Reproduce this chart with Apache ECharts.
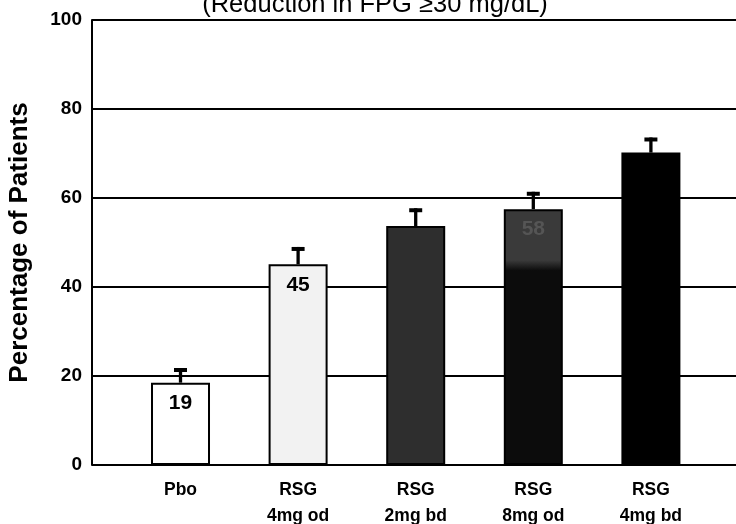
<!DOCTYPE html>
<html>
<head>
<meta charset="utf-8">
<script src="https://cdn.jsdelivr.net/npm/echarts@6/dist/echarts.min.js"></script>
<style>
html,body{margin:0;padding:0;background:#fff;}
#chart{width:736px;height:524px;}
</style>
</head>
<body>
<div id="chart"></div>
<script>
// ---- data ----
var categories = ['Pbo', 'RSG\n4mg od', 'RSG\n2mg bd', 'RSG\n8mg od', 'RSG\n4mg bd'];
var values = [18.5, 45.1, 53.7, 57.5, 70.2];
var errorUpper = [21.8, 49.0, 57.7, 61.4, 73.6];
var barLabels = ['19', '45', '', '58', ''];
var yTicks = [0, 20, 40, 60, 80, 100];
var titleText = '(Reduction in FPG \u226530 mg/dL)';
var yAxisName = 'Percentage of Patients';

// ---- styles ----
var fills = [
  '#ffffff',
  '#f2f2f2',
  '#2e2e2e',
  {type:'linear', x:0, y:0, x2:0, y2:1, colorStops:[
    {offset:0, color:'#3a3a3a'}, {offset:0.2, color:'#3a3a3a'},
    {offset:0.24, color:'#0c0c0c'}, {offset:1, color:'#0c0c0c'}]},
  '#000000'
];
var labelColors = ['#000', '#000', '#000', '#555', '#000'];
var FONT = '"Liberation Sans", Arial, Helvetica, sans-serif';

var barData = values.map(function(v, i){
  return {
    value: [i, v],
    itemStyle: {color: fills[i], borderColor: '#000', borderWidth: 2},
    label: {show: barLabels[i] !== '', formatter: barLabels[i], color: labelColors[i]}
  };
});
var errData = values.map(function(v, i){ return [i, v, errorUpper[i]]; });

var chart = echarts.init(document.getElementById('chart'), null, {renderer: 'canvas'});
chart.setOption({
  animation: false,
  backgroundColor: '#fff',
  title: {
    text: titleText,
    left: 370, textAlign: 'center', top: -13,
    textStyle: {fontFamily: FONT, fontSize: 25.5, fontWeight: 'normal', color: '#000'}
  },
  grid: {left: 92, right: 0, top: 20, bottom: 59, containLabel: false, outerBoundsMode: 'none'},
  xAxis: {
    type: 'value',
    min: -0.7526, max: 4.7236,
    axisLine: {show: false},
    axisTick: {show: false},
    splitLine: {show: false},
    axisLabel: {
      customValues: categories.map(function(c, i){ return i; }),
      formatter: function(v){ return categories[Math.round(v)]; },
      fontFamily: FONT, fontSize: 17.5, fontWeight: 'bold', color: '#000',
      lineHeight: 26, margin: 12
    }
  },
  yAxis: {
    type: 'value', min: 0, max: 100, interval: 20,
    name: yAxisName, nameLocation: 'middle', nameGap: 59, nameRotate: 90,
    nameTextStyle: {fontFamily: FONT, fontSize: 26, fontWeight: 'bold', color: '#000'},
    axisLine: {show: true, onZero: false, lineStyle: {color: '#000', width: 2}},
    axisTick: {show: false},
    axisLabel: {fontFamily: FONT, fontSize: 19, fontWeight: 'bold', color: '#000', margin: 10},
    splitLine: {show: true, lineStyle: {color: '#000', width: 2}}
  },
  series: [
    {
      type: 'bar',
      barWidth: 59,
      data: barData,
      label: {position: 'insideTop', distance: 10, fontFamily: FONT, fontSize: 21, fontWeight: 'bold'},
      z: 2
    },
    {
      type: 'custom',
      data: errData,
      z: 3,
      renderItem: function(params, api){
        var base = api.coord([api.value(0), api.value(1)]);
        var top = api.coord([api.value(0), api.value(2)]);
        var x = base[0];
        return {
          type: 'group',
          children: [
            {type: 'line', shape: {x1: x, y1: base[1], x2: x, y2: top[1]}, style: {stroke: '#000', lineWidth: 3.3}},
            {type: 'line', shape: {x1: x - 6.5, y1: top[1] + 2, x2: x + 6.5, y2: top[1] + 2}, style: {stroke: '#000', lineWidth: 4}}
          ]
        };
      }
    }
  ]
});
</script>
</body>
</html>
